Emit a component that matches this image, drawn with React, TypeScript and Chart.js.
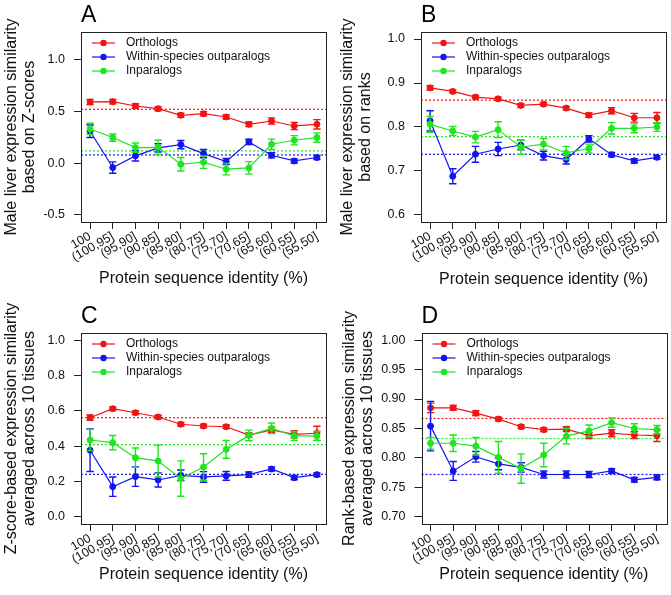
import React, { useEffect, useRef } from 'react';
import { Chart, registerables } from 'chart.js';
Chart.register(...registerables);

const FONT = "'Liberation Sans', Arial, Helvetica, sans-serif";
Chart.defaults.font.family = FONT;
Chart.defaults.color = '#111';

const categories = ['100', '(100,95]', '(95,90]', '(90,85]', '(85,80]', '(80,75]', '(75,70]', '(70,65]', '(65,60]', '(60,55]', '(55,50]'];
const seriesNames = ['Orthologs', 'Within-species outparalogs', 'Inparalogs'];
const seriesColors = ['#f01414', '#1414f0', '#1ee61e'];
const xTitle = 'Protein sequence identity (%)';

// Panel A
const aOrtho = [0.592, 0.595, 0.553, 0.527, 0.463, 0.479, 0.447, 0.376, 0.408, 0.360, 0.376];
const aOrthoErr = [0.025, 0.022, 0.022, 0.02, 0.02, 0.02, 0.02, 0.022, 0.03, 0.035, 0.045];
const aOut = [0.309, -0.042, 0.071, 0.148, 0.180, 0.093, 0.016, 0.206, 0.077, 0.022, 0.055];
const aOutErr = [0.06, 0.055, 0.05, 0.04, 0.04, 0.04, 0.03, 0.025, 0.025, 0.02, 0.02];
const aIn = [0.331, 0.248, 0.151, 0.154, -0.010, 0.010, -0.058, -0.045, 0.183, 0.222, 0.248];
const aInErr = [0.055, 0.035, 0.045, 0.07, 0.065, 0.06, 0.055, 0.06, 0.05, 0.045, 0.045];
const aRef = [0.521, 0.080, 0.119];
const aTicks = [-0.5, 0, 0.5, 1.0];

// Panel B
const bOrtho = [0.889, 0.881, 0.868, 0.864, 0.849, 0.852, 0.843, 0.827, 0.837, 0.821, 0.821];
const bOrthoErr = [0.005, 0.004, 0.004, 0.004, 0.004, 0.004, 0.004, 0.005, 0.007, 0.01, 0.012];
const bOut = [0.814, 0.688, 0.738, 0.750, 0.759, 0.735, 0.726, 0.773, 0.737, 0.723, 0.731];
const bOutErr = [0.023, 0.017, 0.018, 0.015, 0.011, 0.01, 0.01, 0.007, 0.005, 0.005, 0.004];
const bIn = [0.806, 0.791, 0.777, 0.794, 0.754, 0.761, 0.741, 0.751, 0.797, 0.797, 0.800];
const bInErr = [0.018, 0.01, 0.013, 0.018, 0.016, 0.013, 0.015, 0.01, 0.013, 0.01, 0.01];
const bRef = [0.861, 0.738, 0.778];
const bTicks = [0.6, 0.7, 0.8, 0.9, 1.0];

// Panel C
const cOrtho = [0.561, 0.612, 0.589, 0.565, 0.524, 0.514, 0.510, 0.463, 0.492, 0.467, 0.473];
const cOrthoErr = [0.015, 0.01, 0.01, 0.01, 0.01, 0.01, 0.01, 0.012, 0.015, 0.02, 0.04];
const cOut = [0.377, 0.171, 0.228, 0.209, 0.235, 0.226, 0.232, 0.239, 0.271, 0.222, 0.239];
const cOutErr = [0.12, 0.055, 0.055, 0.04, 0.03, 0.03, 0.025, 0.015, 0.012, 0.012, 0.01];
const cIn = [0.435, 0.420, 0.335, 0.316, 0.217, 0.282, 0.382, 0.461, 0.501, 0.458, 0.458];
const cInErr = [0.06, 0.04, 0.055, 0.09, 0.1, 0.075, 0.05, 0.03, 0.03, 0.025, 0.025];
const cRef = [0.561, 0.241, 0.409];
const cTicks = [0, 0.2, 0.4, 0.6, 0.8, 1.0];

// Panel D
const dOrtho = [0.885, 0.885, 0.876, 0.866, 0.853, 0.848, 0.849, 0.838, 0.842, 0.839, 0.838];
const dOrthoErr = [0.008, 0.004, 0.004, 0.003, 0.003, 0.003, 0.004, 0.005, 0.006, 0.006, 0.01];
const dOut = [0.854, 0.778, 0.802, 0.790, 0.784, 0.772, 0.772, 0.772, 0.778, 0.763, 0.767];
const dOutErr = [0.042, 0.016, 0.009, 0.01, 0.008, 0.006, 0.006, 0.005, 0.004, 0.004, 0.004];
const dIn = [0.825, 0.825, 0.820, 0.801, 0.782, 0.805, 0.837, 0.846, 0.860, 0.850, 0.848];
const dInErr = [0.01, 0.014, 0.015, 0.027, 0.025, 0.02, 0.013, 0.01, 0.008, 0.008, 0.007];
const dRef = [0.867, 0.772, 0.833];
const dTicks = [0.70, 0.75, 0.80, 0.85, 0.90, 0.95, 1.00];

type PanelDef = {
  letter: string;
  x: number; y: number; w: number; h: number;
  box: { l: number; r: number; t: number; b: number };
  ylim: [number, number];
  ticks: number[];
  dec: number;
  ylab: string[];
  yTitlePad: number;
  xTitlePad: number;
  series: number[][];
  errs: number[][];
  refs: number[];
};

const panels: PanelDef[] = [
  {
    letter: 'A', x: 0, y: 0, w: 335, h: 297,
    box: { l: 81, r: 326, t: 32, b: 222 },
    ylim: [-0.5, 1.2], ticks: aTicks, dec: 1,
    ylab: ['Male liver expression similarity', 'based on Z-scores'],
    yTitlePad: 2.7, xTitlePad: 9.2,
    series: [aOrtho, aOut, aIn], errs: [aOrthoErr, aOutErr, aInErr], refs: aRef,
  },
  {
    letter: 'B', x: 335, y: 0, w: 336, h: 297,
    box: { l: 86, r: 331, t: 32, b: 222 },
    ylim: [0.6, 1.0], ticks: bTicks, dec: 1,
    ylab: ['Male liver expression similarity', 'based on ranks'],
    yTitlePad: 4.2, xTitlePad: 8.5,
    series: [bOrtho, bOut, bIn], errs: [bOrthoErr, bOutErr, bInErr], refs: bRef,
  },
  {
    letter: 'C', x: 0, y: 297, w: 335, h: 298,
    box: { l: 81, r: 326, t: 36, b: 227 },
    ylim: [0, 1.0], ticks: cTicks, dec: 1,
    ylab: ['Z-score-based expression similarity', 'averaged across 10 tissues'],
    yTitlePad: 2.9, xTitlePad: 12,
    series: [cOrtho, cOut, cIn], errs: [cOrthoErr, cOutErr, cInErr], refs: cRef,
  },
  {
    letter: 'D', x: 335, y: 297, w: 336, h: 298,
    box: { l: 86.5, r: 331, t: 36, b: 227 },
    ylim: [0.7, 1.0], ticks: dTicks, dec: 2,
    ylab: ['Rank-based expression similarity', 'averaged across 10 tissues'],
    yTitlePad: 6.2, xTitlePad: 12,
    series: [dOrtho, dOut, dIn], errs: [dOrthoErr, dOutErr, dInErr], refs: dRef,
  },
];

const panelPlugin = {
  id: 'panelDecor',
  beforeDatasetsDraw(chart: any) {
    const { ctx, chartArea, scales } = chart;
    const refs: number[] = chart.options.plugins.panelDecor.refs;
    ctx.save();
    ctx.lineWidth = 1.2;
    ctx.setLineDash([2, 2]);
    refs.forEach((v, k) => {
      const y = scales.y.getPixelForValue(v);
      ctx.strokeStyle = seriesColors[k];
      ctx.beginPath();
      ctx.moveTo(chartArea.left, y);
      ctx.lineTo(chartArea.right, y);
      ctx.stroke();
    });
    ctx.restore();
  },
  afterDatasetDraw(chart: any, args: any) {
    const { ctx, scales } = chart;
    const ds = chart.data.datasets[args.index];
    const errs: number[] = ds.errs;
    if (!errs) return;
    ctx.save();
    ctx.strokeStyle = ds.borderColor;
    ctx.lineWidth = 1.4;
    ds.data.forEach((pt: any, i: number) => {
      const x = scales.x.getPixelForValue(pt.x);
      const y1 = scales.y.getPixelForValue(pt.y - errs[i]);
      const y2 = scales.y.getPixelForValue(pt.y + errs[i]);
      const cw = 3.7;
      ctx.beginPath();
      ctx.moveTo(x, y1); ctx.lineTo(x, y2);
      ctx.moveTo(x - cw, y1); ctx.lineTo(x + cw, y1);
      ctx.moveTo(x - cw, y2); ctx.lineTo(x + cw, y2);
      ctx.stroke();
    });
    ctx.restore();
  },
  afterDraw(chart: any) {
    const { ctx, chartArea } = chart;
    const letter: string = chart.options.plugins.panelDecor.letter;
    ctx.save();
    ctx.strokeStyle = '#222';
    ctx.lineWidth = 1;
    ctx.setLineDash([]);
    ctx.strokeRect(Math.round(chartArea.left) + 0.5, Math.round(chartArea.top) + 0.5,
      Math.round(chartArea.right - chartArea.left), Math.round(chartArea.bottom - chartArea.top));
    // legend
    ctx.font = `12px ${FONT}`;
    ctx.textBaseline = 'middle';
    ctx.textAlign = 'left';
    seriesNames.forEach((name, k) => {
      const y = chartArea.top + 11 + 14 * k;
      const x0 = chartArea.left + 11;
      ctx.strokeStyle = seriesColors[k];
      ctx.fillStyle = seriesColors[k];
      ctx.lineWidth = 1.2;
      ctx.beginPath();
      ctx.moveTo(x0, y); ctx.lineTo(x0 + 23, y);
      ctx.stroke();
      ctx.beginPath();
      ctx.arc(x0 + 11.5, y, 3.2, 0, Math.PI * 2);
      ctx.fill();
      ctx.fillStyle = '#111';
      ctx.fillText(name, chartArea.left + 45, y);
    });
    // panel letter
    ctx.font = `23px ${FONT}`;
    ctx.textBaseline = 'alphabetic';
    ctx.fillStyle = '#000';
    ctx.fillText(letter, chartArea.left, chartArea.top - 10);
    ctx.restore();
  },
};

function Panel({ p }: { p: PanelDef }) {
  const ref = useRef<HTMLCanvasElement>(null);
  useEffect(() => {
    const canvas = ref.current;
    if (!canvas) return;
    const span = p.ylim[1] - p.ylim[0];
    const datasets = p.series.map((s, k) => ({
      label: seriesNames[k],
      data: s.map((v, i) => ({ x: i, y: v })),
      borderColor: seriesColors[k],
      backgroundColor: seriesColors[k],
      pointBackgroundColor: seriesColors[k],
      pointBorderColor: seriesColors[k],
      borderWidth: 1.2,
      pointRadius: 3,
      pointBorderWidth: 1,
      tension: 0,
      order: 3 - k,
      errs: p.errs[k],
    }));
    const gridOpts = { drawOnChartArea: false, drawTicks: true, tickLength: 7, color: '#222', lineWidth: 1 };
    const chart = new Chart(canvas, {
      type: 'line',
      data: { datasets: datasets as any },
      options: {
        animation: false,
        responsive: false,
        devicePixelRatio: 1,
        layout: { padding: { left: 0, top: p.box.t, right: p.w - p.box.r, bottom: 0 } },
        plugins: {
          legend: { display: false },
          tooltip: { enabled: false },
          panelDecor: { refs: p.refs, letter: p.letter },
        } as any,
        scales: {
          x: {
            type: 'linear',
            min: -0.4,
            max: 10.4,
            afterBuildTicks: (s: any) => { s.ticks = categories.map((_, i) => ({ value: i })); },
            afterFit: (s: any) => { s.height = p.h - p.box.b; },
            grid: gridOpts,
            border: { display: false },
            ticks: {
              autoSkip: false,
              maxRotation: 30,
              minRotation: 30,
              padding: 0,
              color: '#111',
              font: { size: 12.5 },
              callback: (_v: any, i: number) => categories[i] ?? '',
            },
            title: {
              display: true,
              text: xTitle,
              color: '#111',
              font: { size: 16, lineHeight: 1.1 },
              padding: { top: 0, bottom: p.xTitlePad },
            },
          },
          y: {
            type: 'linear',
            min: p.ylim[0] - 0.04 * span,
            max: p.ylim[1] + 0.04 * span,
            afterBuildTicks: (s: any) => { s.ticks = p.ticks.map((v) => ({ value: v })); },
            afterFit: (s: any) => { s.width = p.box.l; },
            grid: gridOpts,
            border: { display: false },
            ticks: {
              padding: 9,
              color: '#111',
              font: { size: 12.5 },
              callback: (v: any) => Number(v).toFixed(p.dec),
            },
            title: {
              display: true,
              text: p.ylab,
              color: '#111',
              font: { size: 16, lineHeight: 1.1 },
              padding: { top: p.yTitlePad, bottom: 0 },
            },
          },
        },
      } as any,
      plugins: [panelPlugin],
    });
    return () => chart.destroy();
  }, [p]);
  return (
    <canvas
      ref={ref}
      width={p.w}
      height={p.h}
      style={{ position: 'absolute', left: p.x, top: p.y, width: p.w, height: p.h }}
    />
  );
}

export default function App() {
  return (
    <div style={{ position: 'absolute', left: 0, top: 0, width: 671, height: 595, background: '#fff' }}>
      {panels.map((p) => (
        <Panel key={p.letter} p={p} />
      ))}
    </div>
  );
}
